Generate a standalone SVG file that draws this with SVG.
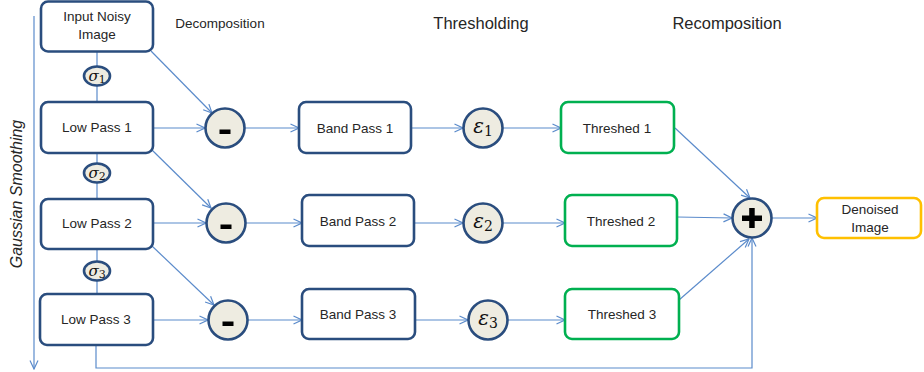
<svg xmlns="http://www.w3.org/2000/svg" width="924" height="372" viewBox="0 0 924 372">
<style>
.box{fill:#fff;stroke:#2A4D7E;stroke-width:2.6}
.grn{fill:#fff;stroke:#00B050;stroke-width:2.6}
.org{fill:#fff;stroke:#FFC000;stroke-width:2.6}
.cir{fill:#EEECE1;stroke:#2A4D7E;stroke-width:2.6}
.t{font-family:"Liberation Sans",Arial,sans-serif;font-size:13.5px;fill:#262626;text-anchor:middle}
.h{font-family:"Liberation Sans",Arial,sans-serif;fill:#262626;text-anchor:middle}
.m{font-family:"DejaVu Serif","Liberation Serif",serif;fill:#111;text-anchor:middle}
.c line,.c path{stroke:#5B8BCB;stroke-width:1.2;fill:none}
.a{marker-end:url(#arr)}
</style>
<defs>
<marker id="arr" viewBox="0 0 10 10" refX="9.5" refY="5" markerWidth="10" markerHeight="10" markerUnits="userSpaceOnUse" orient="auto">
<path d="M1,1 L9.5,5 L1,9" fill="none" stroke="#5B8BCB" stroke-width="1.2"/>
</marker>
</defs>

<text class="h" x="220" y="28" font-size="13.5">Decomposition</text>
<text class="h" x="481" y="29" font-size="16.5">Thresholding</text>
<text class="h" x="727" y="29" font-size="16.5">Recomposition</text>
<text class="h" x="0" y="0" font-size="16" font-style="italic" transform="translate(22,194) rotate(-90)">Gaussian Smoothing</text>

<g class="c" id="connectors">
<line class="a" x1="34" y1="16" x2="34" y2="369"/>
<line x1="97" y1="52" x2="97" y2="102"/>
<line x1="97" y1="153" x2="97" y2="199"/>
<line x1="97" y1="249" x2="97" y2="294"/>
<line class="a" x1="151" y1="51" x2="212" y2="113"/>
<line class="a" x1="154" y1="128" x2="205" y2="128"/>
<line class="a" x1="152" y1="150" x2="211" y2="208"/>
<line class="a" x1="154" y1="223" x2="206" y2="223"/>
<line class="a" x1="152" y1="246" x2="214" y2="305"/>
<line class="a" x1="154" y1="320" x2="208" y2="320"/>
<line class="a" x1="245" y1="128" x2="299" y2="128"/>
<line class="a" x1="246" y1="223" x2="302" y2="223"/>
<line class="a" x1="248" y1="320" x2="302" y2="320"/>
<line class="a" x1="411" y1="128" x2="463" y2="128"/>
<line class="a" x1="414" y1="223" x2="463" y2="223"/>
<line class="a" x1="415" y1="320" x2="468" y2="320"/>
<line class="a" x1="503" y1="128" x2="561" y2="128"/>
<line class="a" x1="503" y1="223" x2="565" y2="223"/>
<line class="a" x1="508" y1="320" x2="565" y2="320"/>
<line class="a" x1="675" y1="128" x2="750" y2="198"/>
<line class="a" x1="677" y1="217" x2="732" y2="218"/>
<line class="a" x1="679" y1="300" x2="749" y2="239"/>
<path class="a" d="M96,345 V368 H752 V238"/>
<line class="a" x1="772" y1="218" x2="817" y2="218"/>
</g>

<g id="input"><rect class="box" x="41" y="1.5" width="112" height="50" rx="7"/>
<text class="t" x="97" y="21">Input Noisy</text><text class="t" x="97" y="39">Image</text></g>
<g id="sigma1"><ellipse class="cir" cx="97" cy="76" rx="13" ry="9.5"/>
<text class="m" x="97" y="81"><tspan font-style="italic" font-size="15">σ</tspan><tspan font-size="11" dy="2">1</tspan></text></g>
<g id="lp1"><rect class="box" x="41" y="102" width="112" height="51" rx="7"/><text class="t" x="97" y="132">Low Pass 1</text></g>
<g id="sigma2"><ellipse class="cir" cx="97" cy="173" rx="13" ry="9.5"/>
<text class="m" x="97" y="178"><tspan font-style="italic" font-size="15">σ</tspan><tspan font-size="11" dy="2">2</tspan></text></g>
<g id="lp2"><rect class="box" x="41" y="199" width="112" height="50" rx="7"/><text class="t" x="97" y="228">Low Pass 2</text></g>
<g id="sigma3"><ellipse class="cir" cx="97" cy="271" rx="13" ry="9.5"/>
<text class="m" x="97" y="276"><tspan font-style="italic" font-size="15">σ</tspan><tspan font-size="11" dy="2">3</tspan></text></g>
<g id="lp3"><rect class="box" x="40" y="294" width="113" height="51" rx="7"/><text class="t" x="96" y="324">Low Pass 3</text></g>

<g id="minus1"><circle class="cir" cx="225" cy="128" r="19.5"/><rect x="219.5" y="129.5" width="11" height="4.5" fill="#000"/></g>
<g id="minus2"><circle class="cir" cx="226" cy="223" r="19.5"/><rect x="220.5" y="224.5" width="11" height="4.5" fill="#000"/></g>
<g id="minus3"><circle class="cir" cx="228" cy="320" r="19.5"/><rect x="222.5" y="321.5" width="11" height="4.5" fill="#000"/></g>

<g id="bp1"><rect class="box" x="299" y="102" width="112" height="51" rx="7"/><text class="t" x="355" y="133">Band Pass 1</text></g>
<g id="bp2"><rect class="box" x="302" y="195" width="112" height="51" rx="7"/><text class="t" x="358" y="226">Band Pass 2</text></g>
<g id="bp3"><rect class="box" x="302" y="289" width="113" height="50" rx="7"/><text class="t" x="358" y="319">Band Pass 3</text></g>

<g id="eps1"><circle class="cir" cx="483" cy="128" r="19.5"/>
<text class="m" x="483" y="133"><tspan font-style="italic" font-size="20">ε</tspan><tspan font-size="14" dy="3">1</tspan></text></g>
<g id="eps2"><circle class="cir" cx="483" cy="223" r="19.5"/>
<text class="m" x="483" y="228"><tspan font-style="italic" font-size="20">ε</tspan><tspan font-size="14" dy="3">2</tspan></text></g>
<g id="eps3"><circle class="cir" cx="488" cy="320" r="19.5"/>
<text class="m" x="488" y="325"><tspan font-style="italic" font-size="20">ε</tspan><tspan font-size="14" dy="3">3</tspan></text></g>

<g id="th1"><rect class="grn" x="561" y="102" width="113" height="51" rx="7"/><text class="t" x="617" y="133">Threshed 1</text></g>
<g id="th2"><rect class="grn" x="565" y="195" width="112" height="51" rx="7"/><text class="t" x="621" y="226">Threshed 2</text></g>
<g id="th3"><rect class="grn" x="565" y="289" width="114" height="50" rx="7"/><text class="t" x="622" y="319">Threshed 3</text></g>

<g id="plus"><circle class="cir" cx="752" cy="218" r="19.5"/>
<rect x="742" y="215.5" width="20" height="5.5" fill="#000"/><rect x="749.2" y="208" width="5.5" height="20" fill="#000"/></g>

<g id="denoised"><rect class="org" x="817" y="198" width="104" height="40" rx="7"/>
<text class="t" x="870" y="214">Denoised</text><text class="t" x="870" y="232">Image</text></g>
</svg>
